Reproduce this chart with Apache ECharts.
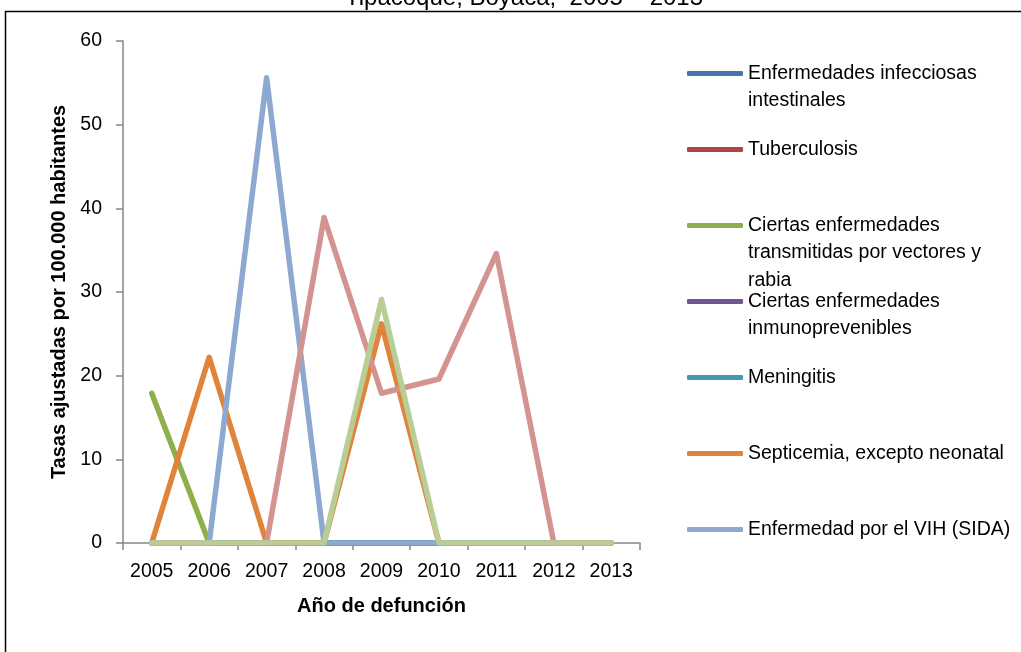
<!DOCTYPE html>
<html>
<head>
<meta charset="utf-8">
<script src="https://cdn.jsdelivr.net/npm/echarts@6/dist/echarts.min.js"></script>
<style>
  html, body { margin: 0; padding: 0; background: #fff; }
  #chart { width: 1021px; height: 652px; }
</style>
</head>
<body>
<div id="chart"></div>
<script>
// Años de defunción (eje X)
const years = ['2005', '2006', '2007', '2008', '2009', '2010', '2011', '2012', '2013'];

// Tasas ajustadas por 100.000 habitantes, por grupo de causa
const intestinales   = [0, 0, 0, 0, 0, 0, 0, 0, 0];
const tuberculosis   = [0, 0, 0, 0, 0, 0, 0, 0, 0];
const vectores       = [17.9, 0, 0, 0, 0, 0, 0, 0, 0];
const inmuno         = [0, 0, 0, 0, 0, 0, 0, 0, 0];
const meningitis     = [0, 0, 0, 0, 0, 0, 0, 0, 0];
const septicemia     = [0, 22.2, 0, 0, 26.2, 0, 0, 0, 0];
const vih            = [0, 0, 55.6, 0, 0, 0, 0, 0, 0];
const respiratorias  = [0, 0, 0, 38.9, 17.9, 19.6, 34.6, 0, 0];
const restoInfecc    = [0, 0, 0, 0, 29.1, 0, 0, 0, 0];

const seriesNames = [
  'Enfermedades infecciosas intestinales',
  'Tuberculosis',
  'Ciertas enfermedades transmitidas por vectores y rabia',
  'Ciertas enfermedades inmunoprevenibles',
  'Meningitis',
  'Septicemia, excepto neonatal',
  'Enfermedad por el VIH (SIDA)',
  'Infecciones respiratorias agudas',
  'Resto de ciertas enfermedades infecciosas y parasitarias'
];
const seriesData = [intestinales, tuberculosis, vectores, inmuno, meningitis,
                    septicemia, vih, respiratorias, restoInfecc];
const seriesColors = ['#4675AB', '#AE4542', '#8DB04B', '#705591', '#4399B3',
                      '#E0843C', '#8EA9CF', '#D39391', '#B8CE96'];

// Y axis ticks
const yMin = 0, yMax = 60, yStep = 10;

const FONT = "'Liberation Sans', Arial, sans-serif";

// Wrap a legend label into lines of at most maxChars characters
function wrap(text, maxChars) {
  const words = text.split(' ');
  const lines = [];
  let cur = '';
  words.forEach(w => {
    const cand = cur ? cur + ' ' + w : w;
    if (cand.length > maxChars && cur) { lines.push(cur); cur = w; }
    else cur = cand;
  });
  if (cur) lines.push(cur);
  return lines;
}

// One legend per entry: the key line sits beside the first text line,
// so blank lines are put ahead of the label to keep the block centred there.
const LINE_H = 27.5;
const legendNames = seriesNames.slice(0, 7);
const legends = legendNames.map((name, i) => {
  const n = wrap(name, 28).length;
  const blockH = (2 * n - 1) * LINE_H;
  const centerY = 68.5 + i * 76;
  return {
    data: [name],
    left: 682,
    top: centerY - blockH / 2,
    icon: 'roundRect',
    itemWidth: 56,
    itemHeight: 5,
    itemGap: 0,
    selectedMode: false,
    formatter: nm => {
      const lines = wrap(nm, 28);
      return new Array(lines.length - 1).fill('').concat(lines).join('\n');
    },
    textStyle: {
      fontFamily: FONT, fontSize: 19.5, color: '#000', lineHeight: LINE_H
    }
  };
});

const chart = echarts.init(document.getElementById('chart'), null, { renderer: 'canvas' });
chart.setOption({
  animation: false,
  backgroundColor: '#fff',
  graphic: [{
    type: 'rect',
    shape: { x: 5.5, y: 11.5, width: 1100, height: 700 },
    style: { fill: 'none', stroke: '#000', lineWidth: 1.5 },
    silent: true
  }, {
    type: 'text',
    x: 524,
    y: -2,
    silent: true,
    style: {
      text: 'Tipacoque, Boyacá,  2005 – 2013',
      align: 'center', verticalAlign: 'middle',
      textAlign: 'center', textVerticalAlign: 'middle',
      fontFamily: FONT, fontSize: 24, fill: '#000'
    }
  }],
  legend: legends,
  grid: { left: 123, right: 381, top: 41, bottom: 109, containLabel: false },
  xAxis: {
    type: 'category',
    data: years,
    boundaryGap: true,
    name: 'Año de defunción',
    nameLocation: 'middle',
    nameGap: 53,
    nameTextStyle: { fontFamily: FONT, fontSize: 20, fontWeight: 'bold', color: '#000' },
    axisLine: { lineStyle: { color: '#868686', width: 1.5 } },
    axisTick: { show: true, length: 7, alignWithLabel: false, lineStyle: { color: '#868686', width: 1.5 } },
    axisLabel: { fontFamily: FONT, fontSize: 19.5, color: '#000', margin: 19, interval: 0 },
    splitLine: { show: false }
  },
  yAxis: {
    type: 'value',
    min: yMin, max: yMax, interval: yStep,
    name: 'Tasas ajustadas por 100.000 habitantes',
    nameLocation: 'middle',
    nameGap: 43,
    nameTextStyle: { fontFamily: FONT, fontSize: 20, fontWeight: 'bold', color: '#000' },
    axisLine: { show: true, lineStyle: { color: '#868686', width: 1.5 } },
    axisTick: { show: true, length: 7, lineStyle: { color: '#868686', width: 1.5 } },
    axisLabel: { fontFamily: FONT, fontSize: 19.5, color: '#000', margin: 21 },
    splitLine: { show: false }
  },
  series: seriesNames.map((name, i) => ({
    name: name,
    type: 'line',
    data: seriesData[i],
    symbol: 'none',
    color: seriesColors[i],
    lineStyle: { width: 5.5, color: seriesColors[i], cap: 'round', join: 'round' },
    z: 2
  }))
});
</script>
</body>
</html>
